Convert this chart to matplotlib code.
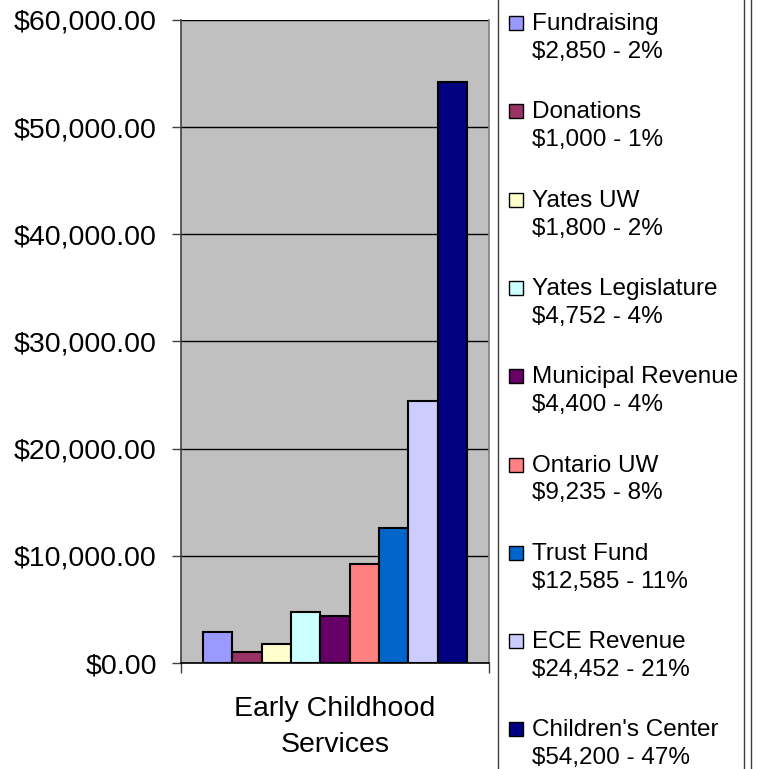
import matplotlib
matplotlib.use("Agg")
import matplotlib.pyplot as plt
from matplotlib.patches import Rectangle
from matplotlib.lines import Line2D
from matplotlib.ticker import FuncFormatter

plt.rcParams['font.family'] = ['Liberation Sans', 'DejaVu Sans']

categories = ["Fundraising", "Donations", "Yates UW", "Yates Legislature",
              "Municipal Revenue", "Ontario UW", "Trust Fund", "ECE Revenue",
              "Children's Center"]
values = [2850, 1000, 1800, 4752, 4400, 9235, 12585, 24452, 54200]
percents = [2, 1, 2, 4, 4, 8, 11, 21, 47]
colors = ["#9999FF", "#993366", "#FFFFCC", "#CCFFFF", "#660066",
          "#FF8080", "#0066CC", "#CCCCFF", "#000080"]
group_label = "Early Childhood\nServices"
yticks = [0, 10000, 20000, 30000, 40000, 50000, 60000]

W, H = 757, 769
fig = plt.figure(figsize=(W / 100, H / 100), dpi=100)
fig.patch.set_facecolor("white")

def fx(px):
    return px / W

def fy(py):
    return 1 - py / H

ax = fig.add_axes([fx(181), fy(663), fx(489) - fx(181), fy(20) - fy(663)])
ax.set_facecolor("#C0C0C0")

xs = list(range(len(values)))
ax.bar(xs, values, width=1.0, color=colors, edgecolor="black", linewidth=1.5, zorder=3)

ax.set_xlim(-1.25, len(values) - 1 + 1.25)
ax.set_ylim(0, 60000)
ax.set_yticks(yticks)
ax.yaxis.set_major_formatter(FuncFormatter(lambda v, p: "${:,.2f}".format(v)))
ax.grid(axis="y", color="black", linewidth=1.0, zorder=1)
ax.tick_params(axis="y", direction="out", length=6.5, width=1.0, color="#404040",
               labelsize=20.5, pad=11)

ax.set_xticks([(len(values) - 1) / 2])
ax.set_xticklabels([group_label], fontsize=20.5, linespacing=1.5)
ax.tick_params(axis="x", which="major", length=0, pad=24)
ax.set_xticks([-1.25, len(values) - 1 + 1.25], minor=True)
ax.tick_params(axis="x", which="minor", length=7, width=1.0, color="#404040")

ax.spines["top"].set_visible(False)
ax.spines["left"].set_color("#404040")
ax.spines["left"].set_linewidth(1.2)
ax.spines["bottom"].set_color("black")
ax.spines["bottom"].set_linewidth(1.2)
ax.spines["right"].set_color("#808080")
ax.spines["right"].set_linewidth(1.2)

# Legend box lines
for xpx in [498, 744, 751]:
    fig.add_artist(Line2D([fx(xpx), fx(xpx)], [0, 1], color="#404040", linewidth=1.0))

# Legend entries
step = 88.3
for i, (cat, val, pct, col) in enumerate(zip(categories, values, percents, colors)):
    top = 16 + step * i
    fig.add_artist(Rectangle((fx(509), fy(top + 14)), fx(14), 14 / H,
                             facecolor=col, edgecolor="black", linewidth=1.0))
    fig.text(fx(532), fy(30 + step * i), cat, fontsize=17.5, va="baseline", ha="left")
    fig.text(fx(532), fy(58 + step * i), "${:,} - {}%".format(val, pct),
             fontsize=17.5, va="baseline", ha="left")

fig.savefig("out.png", dpi=100)
